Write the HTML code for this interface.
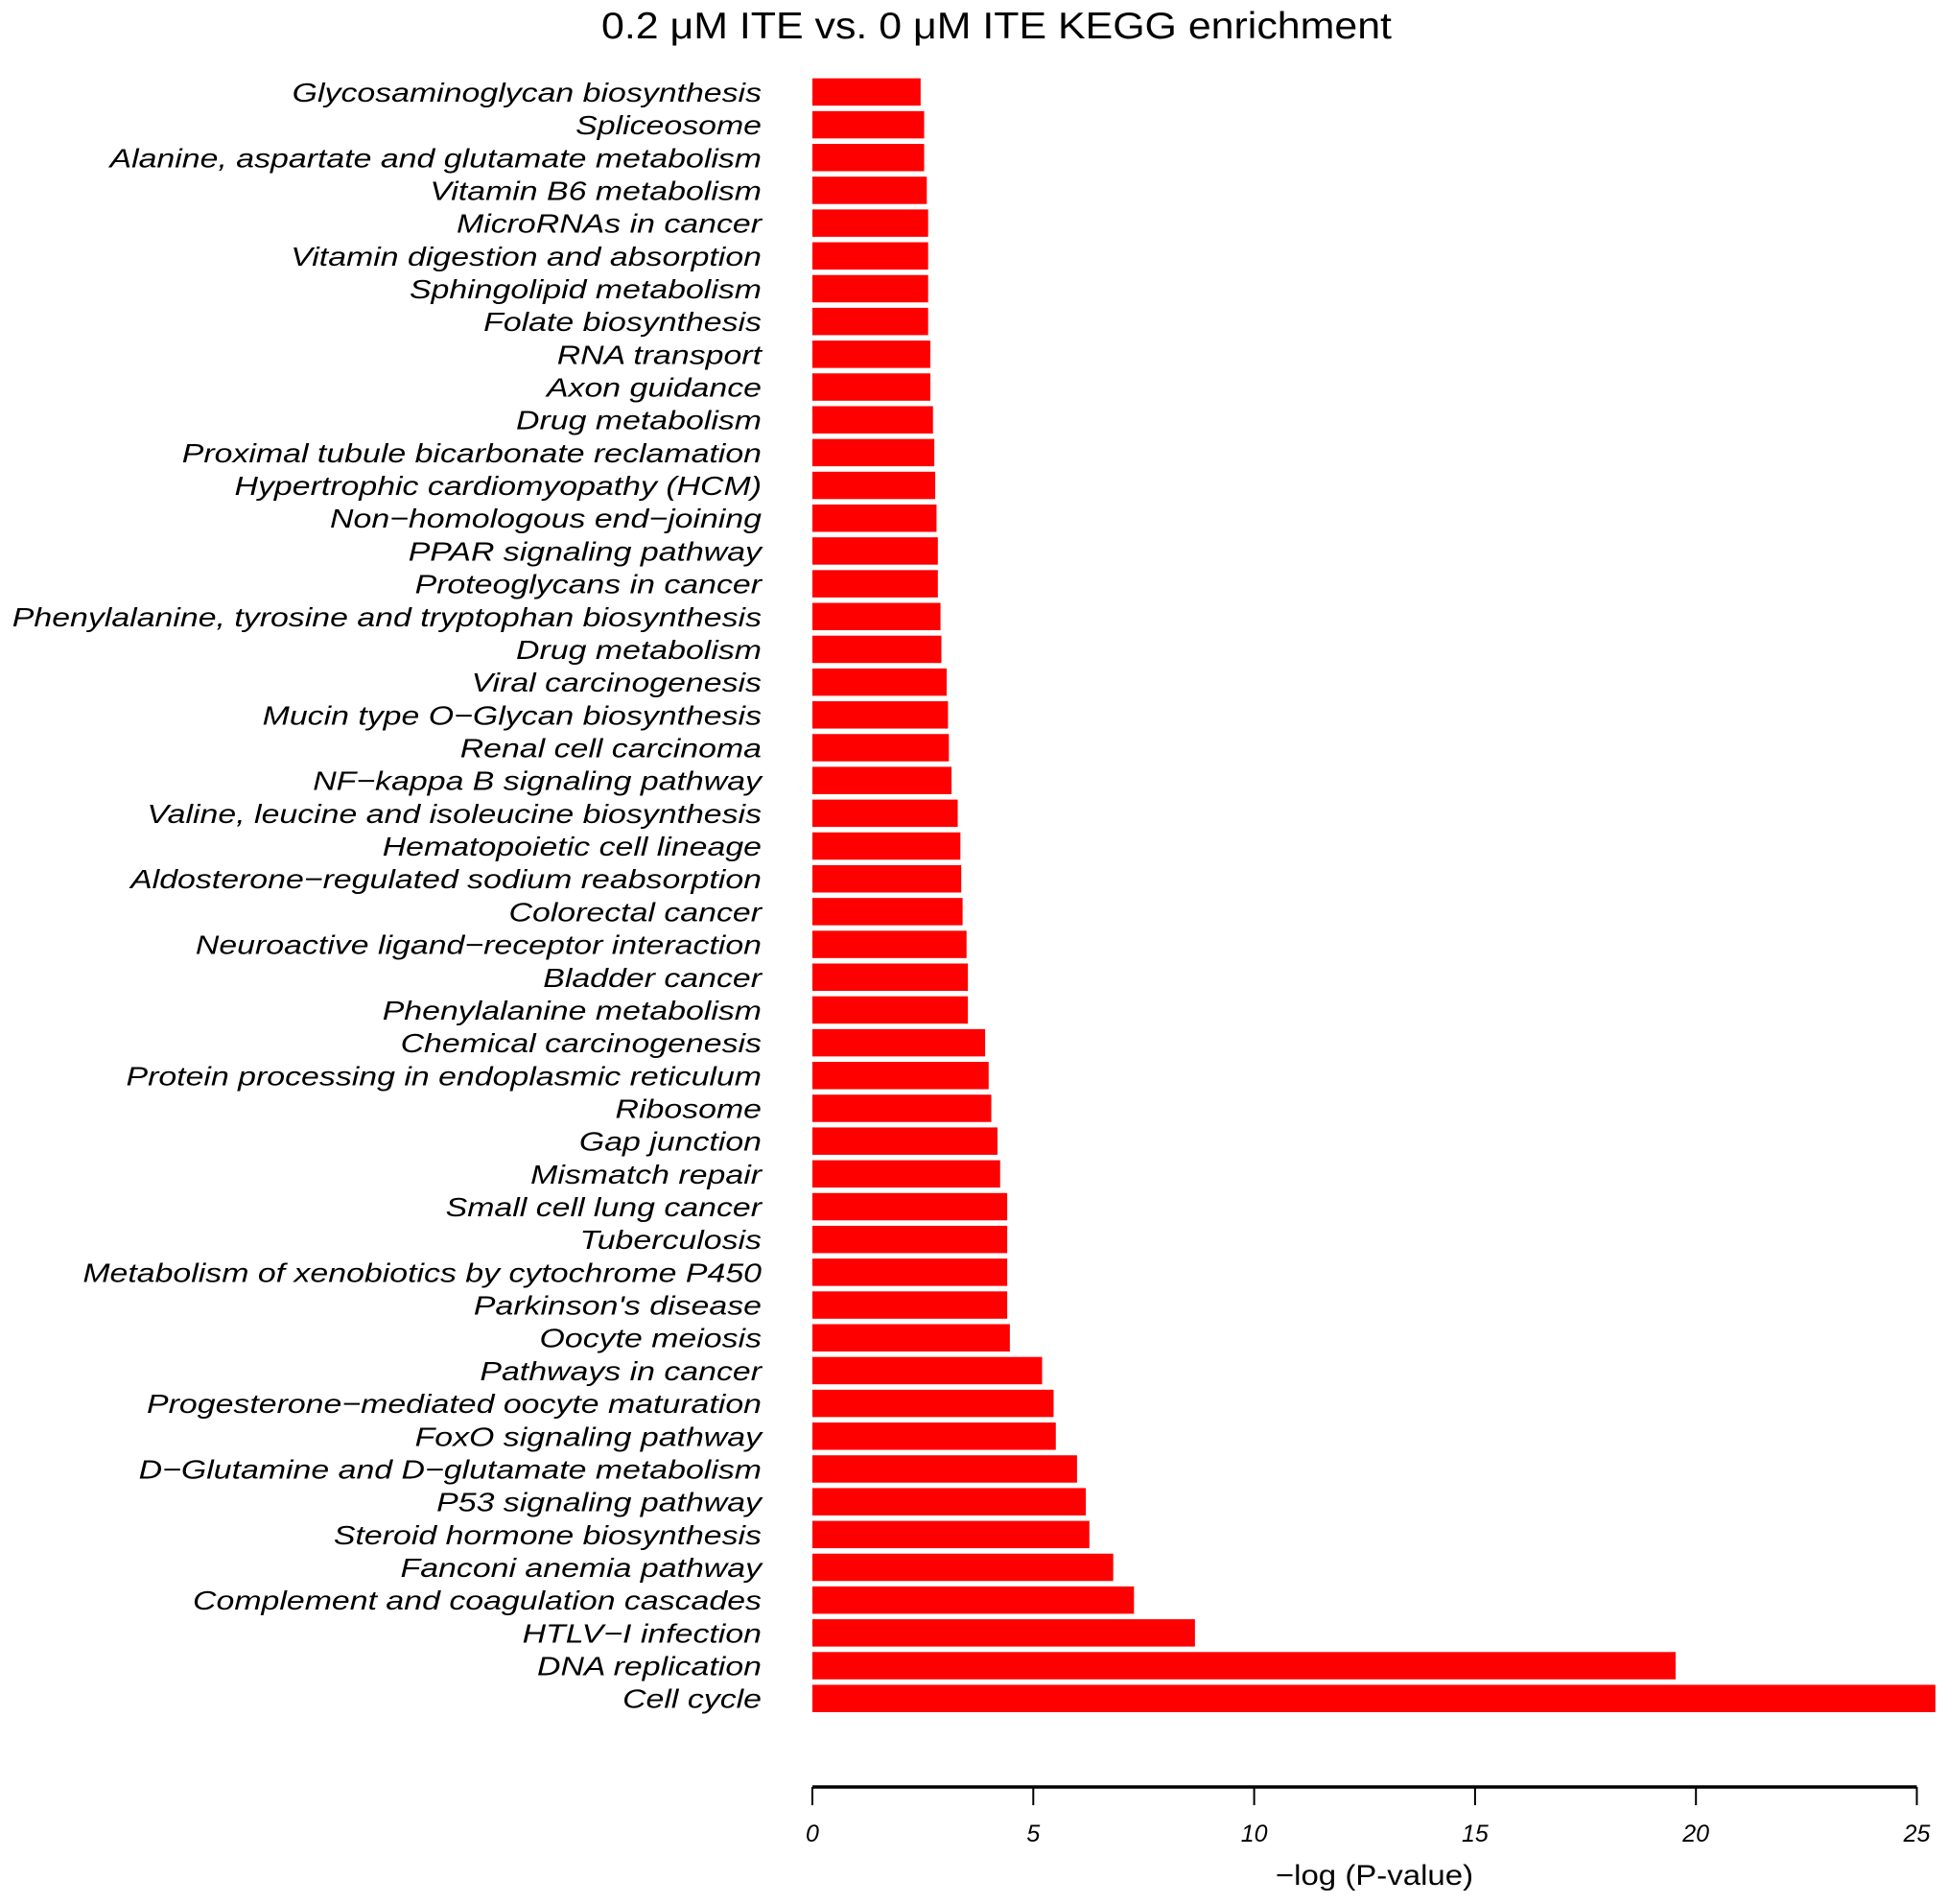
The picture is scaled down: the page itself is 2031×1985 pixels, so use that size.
<!DOCTYPE html>
<html><head><meta charset="utf-8"><style>
html,body{margin:0;padding:0;background:#fff;}
svg{display:block;font-family:"Liberation Sans",sans-serif;}
</style></head><body>
<svg id="chart" width="2031" height="1985" viewBox="0 0 2031 1985" xmlns="http://www.w3.org/2000/svg">
<rect width="2031" height="1985" fill="#fff"/>
<text x="1039" y="40" font-size="39" text-anchor="middle" fill="#000" transform="translate(1039,0) scale(1.1,1) translate(-1039,0)">0.2 μM ITE  vs. 0 μM ITE KEGG enrichment</text>
<g id="bars"></g><g id="labels"></g><g id="axis"></g>
<text x="1433" y="1965" font-size="30" text-anchor="middle" fill="#000" transform="translate(1433,0) scale(1.1,1) translate(-1433,0)">−log (P-value)</text>
</svg>
<script>
const categories = ["Glycosaminoglycan biosynthesis","Spliceosome","Alanine, aspartate and glutamate metabolism","Vitamin B6 metabolism","MicroRNAs in cancer","Vitamin digestion and absorption","Sphingolipid metabolism","Folate biosynthesis","RNA transport","Axon guidance","Drug metabolism","Proximal tubule bicarbonate reclamation","Hypertrophic cardiomyopathy (HCM)","Non−homologous end−joining","PPAR signaling pathway","Proteoglycans in cancer","Phenylalanine, tyrosine and tryptophan biosynthesis","Drug metabolism","Viral carcinogenesis","Mucin type O−Glycan biosynthesis","Renal cell carcinoma","NF−kappa B signaling pathway","Valine, leucine and isoleucine biosynthesis","Hematopoietic cell lineage","Aldosterone−regulated sodium reabsorption","Colorectal cancer","Neuroactive ligand−receptor interaction","Bladder cancer","Phenylalanine metabolism","Chemical carcinogenesis","Protein processing in endoplasmic reticulum","Ribosome","Gap junction","Mismatch repair","Small cell lung cancer","Tuberculosis","Metabolism of xenobiotics by cytochrome P450","Parkinson's disease","Oocyte meiosis","Pathways in cancer","Progesterone−mediated oocyte maturation","FoxO signaling pathway","D−Glutamine and D−glutamate metabolism","P53 signaling pathway","Steroid hormone biosynthesis","Fanconi anemia pathway","Complement and coagulation cascades","HTLV−I infection","DNA replication","Cell cycle"];
const values = [2.45,2.53,2.53,2.59,2.62,2.62,2.62,2.62,2.67,2.67,2.73,2.76,2.78,2.81,2.84,2.84,2.90,2.92,3.04,3.07,3.09,3.15,3.29,3.35,3.37,3.40,3.49,3.52,3.52,3.91,3.99,4.05,4.19,4.25,4.41,4.41,4.41,4.41,4.47,5.20,5.46,5.51,5.99,6.19,6.27,6.81,7.28,8.66,19.54,25.42];
const ticks = [0,5,10,15,20,25];
const NS="http://www.w3.org/2000/svg";
const X0=847, UNIT=46.06, Y0=95.9, PITCH=34.18, BH=28.5;
const xs=v=>X0+v*UNIT, yc=i=>Y0+i*PITCH;
const bars=document.getElementById('bars'), labels=document.getElementById('labels'), axis=document.getElementById('axis');
function mk(tag,attrs,parent){const e=document.createElementNS(NS,tag);for(const k in attrs)e.setAttribute(k,attrs[k]);parent.appendChild(e);return e;}
categories.forEach((c,i)=>{
  const r=mk('rect',{x:X0,y:yc(i)-BH/2,width:xs(values[i])-X0,height:BH,fill:'#ff0000'},bars);
  
  
  const t=mk('text',{x:0,y:0,'font-size':28,'font-style':'italic','text-anchor':'end',fill:'#000',transform:'translate(794,'+(yc(i)+10)+') scale(1.21,1)'},labels);
  t.textContent=c;
  
  
});
const al=mk('line',{x1:xs(0),x2:xs(25),y1:1863,y2:1863,stroke:'#000','stroke-width':3.5},axis);


ticks.forEach(v=>{
  const l=mk('line',{x1:xs(v),x2:xs(v),y1:1863,y2:1882,stroke:'#000','stroke-width':2},axis);
  
  
  const t=mk('text',{x:xs(v),y:1920,'font-size':25,'font-style':'italic','text-anchor':'middle',fill:'#000'},axis);
  t.textContent=v;
  
  
});
</script>
</body></html>
